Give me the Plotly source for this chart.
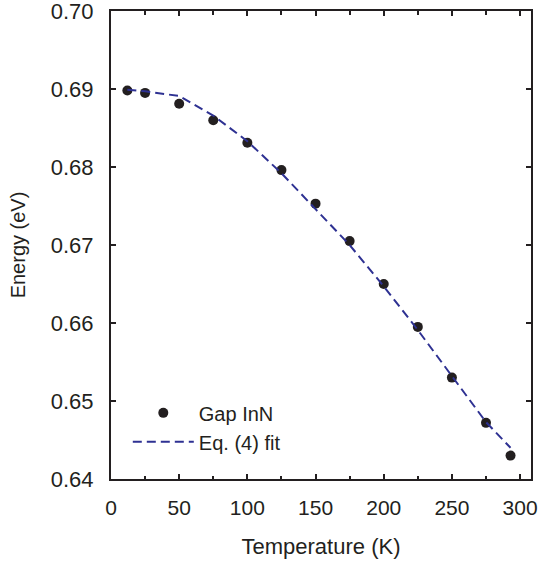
import plotly.graph_objects as go

# Data
temp_K = [12, 25, 50, 75, 100, 125, 150, 175, 200, 225, 250, 275, 293]
gap_eV = [0.6898, 0.6895, 0.6881, 0.6860, 0.6831, 0.6796, 0.6753, 0.6705,
          0.6650, 0.6595, 0.6530, 0.6472, 0.6430]
fit_T = [12, 25, 50, 75, 100, 125, 150, 175, 200, 225, 250, 275, 293]
fit_E = [0.6899, 0.6897, 0.6891, 0.6866, 0.6833, 0.6792, 0.6746, 0.6700,
         0.6647, 0.6591, 0.6532, 0.6473, 0.6440]
x_ticks = [0, 50, 100, 150, 200, 250, 300]
y_ticks = [0.64, 0.65, 0.66, 0.67, 0.68, 0.69, 0.70]

ink = "#231f20"
navy = "#2e3192"
font = "Liberation Sans, Arial, sans-serif"

fig = go.Figure()
fig.add_trace(go.Scatter(
    x=temp_K, y=gap_eV, mode="markers", name="Gap InN",
    marker=dict(color=ink, size=10, line=dict(width=0)),
))
fig.add_trace(go.Scatter(
    x=fit_T, y=fit_E, mode="lines", name="Eq. (4) fit",
    line=dict(color=navy, width=2, dash="9px,5px"),
))

axis_common = dict(
    showline=True, linecolor=ink, linewidth=2, mirror="ticks",
    ticks="inside", tickcolor=ink, tickwidth=1.5, ticklen=5,
    showgrid=False, zeroline=False, ticklabeloverflow="allow",
    automargin=False,
)

fig.update_layout(
    width=538, height=566,
    margin=dict(l=111, r=7, t=11, b=87),
    paper_bgcolor="white", plot_bgcolor="white",
    font=dict(family=font, color=ink),
    showlegend=True,
    legend=dict(x=0.04, y=0.183, xanchor="left", yanchor="top",
                bgcolor="rgba(0,0,0,0)", itemwidth=61,
                font=dict(family=font, size=20, color=ink),
                tracegroupgap=0),
    xaxis=dict(range=[0, 308], tickvals=x_ticks,
               ticklabelstandoff=9,
               tickfont=dict(family=font, size=21, color=ink),
               minor=dict(dtick=25, tick0=0, ticks="inside", ticklen=3.5,
                          tickwidth=1.5, tickcolor=ink),
               title=dict(text="Temperature (K)",
                          font=dict(family=font, size=22, color=ink),
                          standoff=20),
               **axis_common),
    yaxis=dict(range=[0.6399999, 0.7000001], tickvals=y_ticks,
               tickformat=".2f", ticklabelstandoff=11,
               tickfont=dict(family=font, size=22, color=ink),
               title=dict(text="Energy (eV)",
                          font=dict(family=font, size=20, color=ink),
                          standoff=20),
               **axis_common),
)

fig.write_html("out.html")
